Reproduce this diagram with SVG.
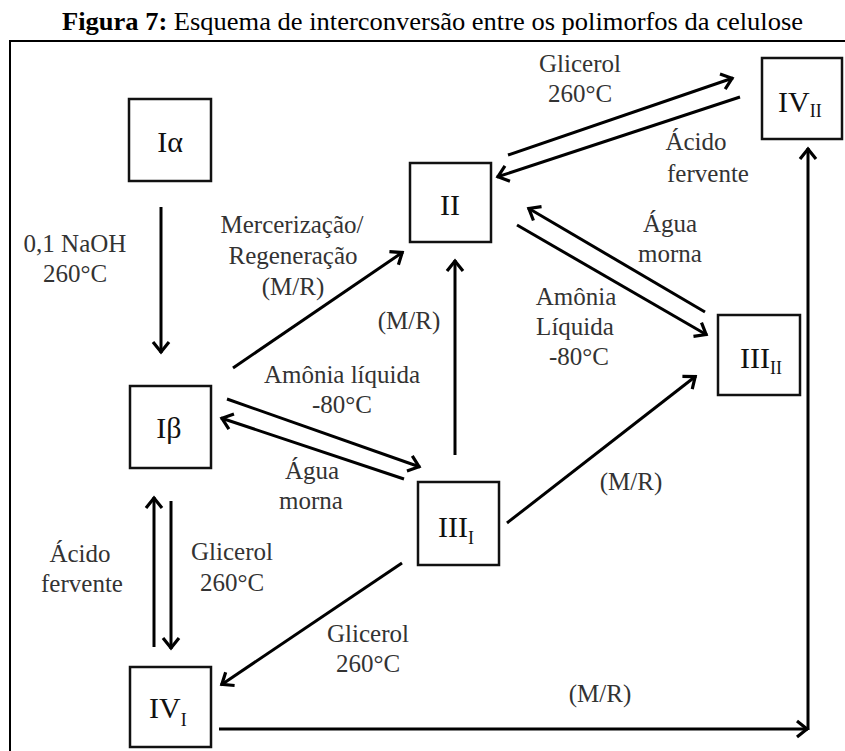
<svg xmlns="http://www.w3.org/2000/svg" width="845" height="751" viewBox="0 0 845 751">
<defs>
<style>
.frame{fill:none;stroke:#000;stroke-width:2}
.box{fill:#fff;stroke:#111;stroke-width:2.5}
.node{font-family:"Liberation Serif","Times New Roman",serif;font-size:30px;fill:#111}
.sub{font-size:18px}
.lbl{font-family:"Liberation Serif","Times New Roman",serif;font-size:25px;fill:#333;text-anchor:middle}
.title{font-family:"Liberation Serif","Times New Roman",serif;font-size:25px;fill:#000}
.con{fill:none;stroke:#000;stroke-width:3;marker-end:url(#ah)}
</style>
<marker id="ah" markerUnits="userSpaceOnUse" markerWidth="30" markerHeight="30" viewBox="-15 -15 30 30" refX="0" refY="0" orient="auto" overflow="visible">
<path d="M-11,-8 L-1,0 L-11,8" fill="none" stroke="#000" stroke-width="3.2"/>
</marker>
</defs>
<rect width="845" height="751" fill="#fff"/>
<text class="title" x="62" y="30" textLength="741" lengthAdjust="spacingAndGlyphs"><tspan font-weight="bold">Figura 7:</tspan> Esquema de interconversão entre os polimorfos da celulose</text>
<rect class="frame" x="10" y="41" width="840" height="720"/>
<g id="connectors">
<path class="con" d="M161,207 L161,353"/>
<path class="con" d="M233,368 L403,252"/>
<path class="con" d="M508,155 L733,78"/>
<path class="con" d="M740,97 L497,177"/>
<path class="con" d="M517,225 L707,335"/>
<path class="con" d="M705,312 L528,208"/>
<path class="con" d="M455,455 L455,260"/>
<path class="con" d="M507,523 L696,376"/>
<path class="con" d="M227,399 L420,467"/>
<path class="con" d="M404,479 L221,418"/>
<path class="con" d="M154,647 L154,497"/>
<path class="con" d="M171,501 L171,649"/>
<path class="con" d="M402,563 L221,685"/>
<path class="con" d="M219,729 L808,729"/>
<path class="con" d="M808,730 L808,148"/>
</g>
<g id="labels">
<text class="lbl" x="75" y="252">0,1 NaOH</text>
<text class="lbl" x="75" y="282">260°C</text>
<text class="lbl" x="292" y="233">Mercerização/</text>
<text class="lbl" x="293" y="264">Regeneração</text>
<text class="lbl" x="293" y="295">(M/R)</text>
<text class="lbl" x="409" y="329">(M/R)</text>
<text class="lbl" x="342" y="383">Amônia líquida</text>
<text class="lbl" x="342" y="413">-80°C</text>
<text class="lbl" x="312" y="479">Água</text>
<text class="lbl" x="311" y="509">morna</text>
<text class="lbl" x="80" y="562">Ácido</text>
<text class="lbl" x="82" y="592">fervente</text>
<text class="lbl" x="232" y="560">Glicerol</text>
<text class="lbl" x="232" y="591">260°C</text>
<text class="lbl" x="368" y="642">Glicerol</text>
<text class="lbl" x="368" y="672">260°C</text>
<text class="lbl" x="631" y="490">(M/R)</text>
<text class="lbl" x="600" y="702">(M/R)</text>
<text class="lbl" x="580" y="72">Glicerol</text>
<text class="lbl" x="580" y="102">260°C</text>
<text class="lbl" x="696" y="150">Ácido</text>
<text class="lbl" x="708" y="182">fervente</text>
<text class="lbl" x="670" y="232">Água</text>
<text class="lbl" x="670" y="262">morna</text>
<text class="lbl" x="576" y="305">Amônia</text>
<text class="lbl" x="575" y="335">Líquida</text>
<text class="lbl" x="579" y="365">-80°C</text>
</g>
<g id="node-Ialpha">
<rect class="box" x="129" y="99" width="82" height="82"/>
<text class="node" x="170" y="152" text-anchor="middle">Iα</text>
</g>
<g id="node-II">
<rect class="box" x="410" y="163" width="81" height="79"/>
<text class="node" x="450" y="215" text-anchor="middle">II</text>
</g>
<g id="node-IVII">
<rect class="box" x="762" y="58" width="80" height="81"/>
<text class="node" x="778" y="112">IV<tspan class="sub" dy="5">II</tspan></text>
</g>
<g id="node-IIIII">
<rect class="box" x="718" y="315" width="82" height="80"/>
<text class="node" x="740" y="368">III<tspan class="sub" dy="6">II</tspan></text>
</g>
<g id="node-Ibeta">
<rect class="box" x="130" y="386" width="81" height="82"/>
<text class="node" x="169" y="438" text-anchor="middle">Iβ</text>
</g>
<g id="node-IIII">
<rect class="box" x="418" y="482" width="81" height="83"/>
<text class="node" x="438" y="537">III<tspan class="sub" dy="7">I</tspan></text>
</g>
<g id="node-IVI">
<rect class="box" x="130" y="667" width="81" height="80"/>
<text class="node" x="149" y="718">IV<tspan class="sub" dy="8">I</tspan></text>
</g>
</svg>
